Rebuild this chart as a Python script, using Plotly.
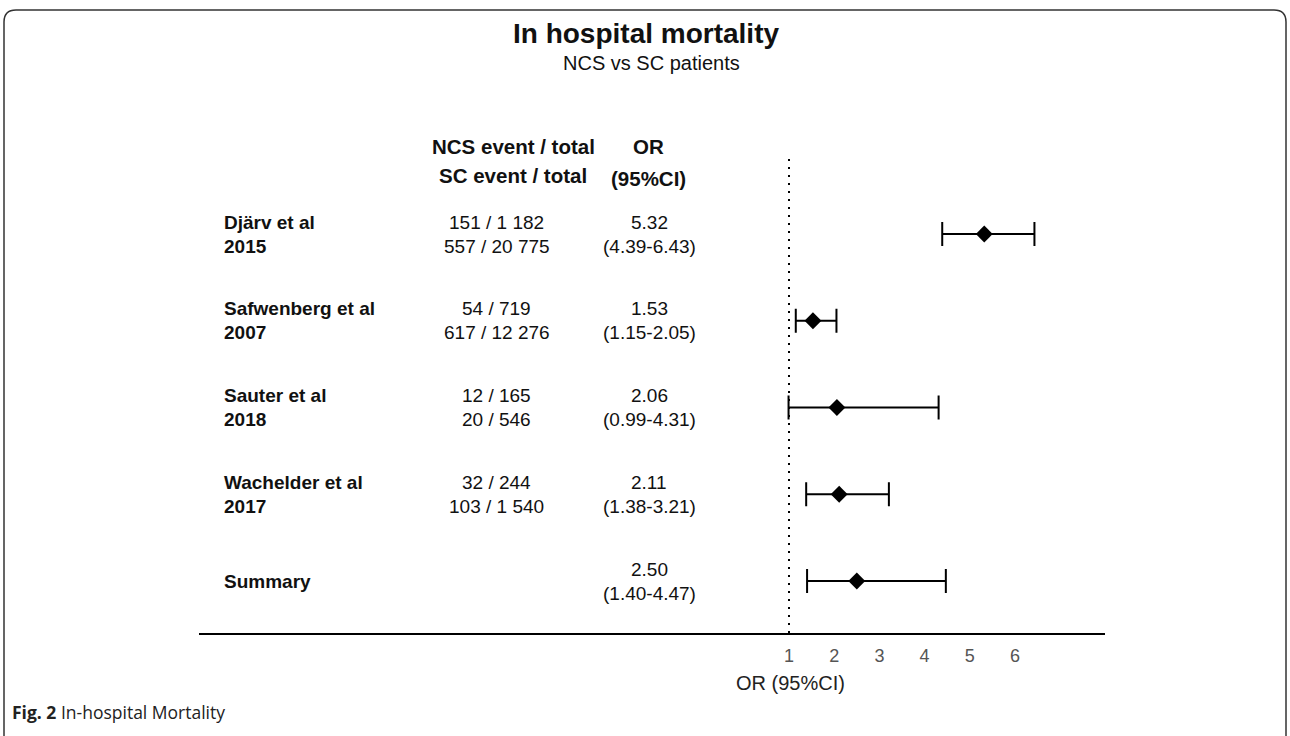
import plotly.graph_objects as go

# ---- data ----
studies = ["Djärv et al", "Safwenberg et al", "Sauter et al", "Wachelder et al"]
years = ["2015", "2007", "2018", "2017"]
ncs_events = [151, 54, 12, 32]
ncs_totals = [1182, 719, 165, 244]
sc_events = [557, 617, 20, 103]
sc_totals = [20775, 12276, 546, 1540]
or_vals = [5.32, 1.53, 2.06, 2.11]
ci_lo = [4.39, 1.15, 0.99, 1.38]
ci_hi = [6.43, 2.05, 4.31, 3.21]
summary_label = "Summary"
summary_or = 2.50
summary_lo = 1.40
summary_hi = 4.47
tick_vals = [1, 2, 3, 4, 5, 6]

W, H = 1290, 736
FONT = "Liberation Sans, Arial, Helvetica, sans-serif"


def px(x):
    return x / W


def py(y):
    return 1 - y / H


def fmt_n(n):
    return f"{n:,}".replace(",", " ")


all_or = or_vals + [summary_or]
all_lo = ci_lo + [summary_lo]
all_hi = ci_hi + [summary_hi]
rows = list(range(len(all_or)))

fig = go.Figure()
fig.add_trace(go.Scatter(
    x=all_or, y=rows, mode="markers",
    marker=dict(symbol="diamond", size=13, color="black"),
    error_x=dict(type="data", symmetric=False,
                 array=[h - o for h, o in zip(all_hi, all_or)],
                 arrayminus=[o - l for o, l in zip(all_or, all_lo)],
                 color="black", thickness=2, width=12),
    showlegend=False, hoverinfo="skip",
))

annotations = []
ROW = 19
HDR = 20.5


def txt(text, x, y, size=ROW, bold=False, anchor="center", color="#111", yref="paper", yshift=0, font=FONT):
    if bold:
        text = f"<b>{text}</b>"
    annotations.append(dict(
        text=text, x=x, y=y, xref="paper", yref=yref, yshift=yshift,
        xanchor=anchor, yanchor="middle", showarrow=False,
        font=dict(family=font, size=size, color=color),
    ))


# title
txt("In hospital mortality", px(646), py(33), size=28, bold=True)
txt("NCS vs SC patients", px(651), py(63), size=20)

# headers
txt("NCS event / total", px(513), py(146), size=HDR, bold=True)
txt("SC event / total", px(513), py(175), size=HDR, bold=True)
txt("OR", px(648), py(146), size=HDR, bold=True)
txt("(95%CI)", px(648), py(178), size=HDR, bold=True)

# study rows
for i, s in enumerate(studies):
    txt(s, px(222), i, bold=True, anchor="left", yref="y", yshift=12)
    txt(years[i], px(222), i, bold=True, anchor="left", yref="y", yshift=-12)
    txt(f"{fmt_n(ncs_events[i])} / {fmt_n(ncs_totals[i])}", px(497), i, yref="y", yshift=12)
    txt(f"{fmt_n(sc_events[i])} / {fmt_n(sc_totals[i])}", px(497), i, yref="y", yshift=-12)
    txt(f"{or_vals[i]:.2f}", px(649), i, yref="y", yshift=12)
    txt(f"({ci_lo[i]:.2f}-{ci_hi[i]:.2f})", px(649), i, yref="y", yshift=-12)

k = len(studies)
txt(summary_label, px(222), k, bold=True, anchor="left", yref="y")
txt(f"{summary_or:.2f}", px(649), k, yref="y", yshift=12)
txt(f"({summary_lo:.2f}-{summary_hi:.2f})", px(649), k, yref="y", yshift=-12)

# axis title
txt("OR (95%CI)", px(790), py(683), size=20, color="#222")

# caption
annotations.append(dict(
    text="<b>Fig. 2</b> In-hospital Mortality", x=px(10), y=py(712),
    xref="paper", yref="paper", xanchor="left", yanchor="middle", showarrow=False,
    font=dict(family="Open Sans, sans-serif", size=17.5, color="#222"),
))

# rounded frame
x0, x1 = px(4), px(1286)
y0, y1 = py(760), py(10)
rx, ry = 12 / W, 12 / H
frame = (f"M {x0},{y0} L {x0},{y1 - ry} Q {x0},{y1} {x0 + rx},{y1} "
         f"L {x1 - rx},{y1} Q {x1},{y1} {x1},{y1 - ry} L {x1},{y0}")

shapes = [
    dict(type="path", path=frame, xref="paper", yref="paper",
         line=dict(color="#333", width=1.5)),
    dict(type="line", x0=1, x1=1, y0=0, y1=1, xref="x", yref="y domain",
         line=dict(color="black", width=2, dash="2px,6px")),
]

x_left, x_right = 199, 1105
unit = 45.2
fig.update_layout(
    width=W, height=H,
    margin=dict(l=0, r=0, t=0, b=0),
    paper_bgcolor="white", plot_bgcolor="white",
    annotations=annotations, shapes=shapes,
    xaxis=dict(
        domain=[px(x_left), px(x_right)],
        range=[1 - (789 - x_left) / unit, 1 + (x_right - 789) / unit],
        showgrid=False, zeroline=False, fixedrange=True,
        showline=True, linecolor="black", linewidth=2,
        tickvals=tick_vals, ticks="", ticklabelstandoff=5,
        tickfont=dict(family=FONT, size=18, color="#555"),
    ),
    yaxis=dict(
        domain=[py(633), py(155)],
        range=[(633 - 234) / 86.75, (155 - 234) / 86.75],
        showgrid=False, zeroline=False, showline=False, fixedrange=True,
        showticklabels=False, ticks="",
    ),
)

fig.write_html("out.html",
               config={"displayModeBar": False},
               post_script="document.body.style.margin='0';document.body.style.overflow='hidden';")
